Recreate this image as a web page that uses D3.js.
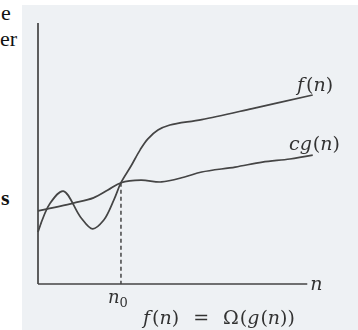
<!DOCTYPE html>
<html>
<head>
<meta charset="utf-8">
<script src="https://cdn.jsdelivr.net/npm/d3@7"></script>
<style>
  html, body { margin: 0; padding: 0; background: #ffffff; }
  svg { display: block; }
</style>
</head>
<body>
<svg id="chart" width="358" height="330"></svg>
<script>
// f(n): wiggles at first, then climbs past c·g(n) for good
const fN = [0, 4.5, 9.3, 15.6, 20.1, 24.2, 27.9, 30.5, 34.2, 37.6, 40.4, 44.1, 48.5, 60.2, 78.8, 101];
const fV = [19.9, 31.0, 35.6, 25.7, 21.1, 24.5, 32.2, 38.8, 45.2, 51.5, 55.6, 59.0, 60.9, 63.0, 67.2, 72.4];

// c·g(n): slowly rising lower bound
const gN = [0, 13.0, 20.4, 25.7, 30.5, 37.9, 45.4, 53.9, 60.2, 72.5, 82.5, 92.6, 101];
const gV = [28.0, 31.0, 33.0, 36.0, 38.8, 39.8, 39.1, 41.0, 42.9, 44.8, 46.7, 47.9, 49.4];

// threshold n0 where f(n) >= c·g(n) from then on
const n0 = 30.5;
const n0Value = 38.8;

// axis extents
const xAxisEnd = 99;
const yAxisTop = 100;

const svg = d3.select("#chart");

// soften edges slightly, like printed ink
const defs = svg.append("defs");
defs.append("filter").attr("id", "soft")
  .append("feGaussianBlur").attr("stdDeviation", 0.35);

// page area
svg.append("rect")
  .attr("x", 22).attr("y", 5)
  .attr("width", 336).attr("height", 325)
  .attr("fill", "#eef1f4");

const x = d3.scaleLinear().domain([0, 100]).range([38, 310]);
const y = d3.scaleLinear().domain([0, 100]).range([284, 23]);

const ink = "#444";
const g = svg.append("g").attr("filter", "url(#soft)");

// axes
g.append("line")
  .attr("x1", x(0)).attr("x2", x(0))
  .attr("y1", y(0)).attr("y2", y(yAxisTop))
  .attr("stroke", ink).attr("stroke-width", 1.7);
g.append("line")
  .attr("x1", x(0)).attr("x2", x(xAxisEnd))
  .attr("y1", y(0)).attr("y2", y(0))
  .attr("stroke", ink).attr("stroke-width", 1.7);

// dashed drop line at n0
g.append("line")
  .attr("x1", x(n0)).attr("x2", x(n0))
  .attr("y1", y(n0Value)).attr("y2", y(0))
  .attr("stroke", ink).attr("stroke-width", 1.5)
  .attr("stroke-dasharray", "4,3");

const line = d3.line()
  .x(d => x(d[0])).y(d => y(d[1]))
  .curve(d3.curveCatmullRom.alpha(0.5));

g.append("path")
  .datum(d3.zip(gN, gV))
  .attr("d", line)
  .attr("fill", "none").attr("stroke", ink).attr("stroke-width", 1.7);

g.append("path")
  .datum(d3.zip(fN, fV))
  .attr("d", line)
  .attr("fill", "none").attr("stroke", ink).attr("stroke-width", 1.7);

// labels
const serif = "'DejaVu Serif', 'Liberation Serif', serif";
const txt = "#333";

function label(px, py, parts, size) {
  const t = g.append("text")
    .attr("x", px).attr("y", py)
    .attr("font-family", serif)
    .attr("font-size", size)
    .attr("fill", txt);
  parts.forEach(p => {
    const s = t.append("tspan").text(p[0])
      .attr("font-style", p[1] ? "italic" : "normal");
    if (p[2]) s.attr("dx", p[2]);
  });
  return t;
}

label(297, 91, [["f", true], ["(", false, 2], ["n", true], [")", false]], 19);
label(289, 150, [["cg", true], ["(", false, 1], ["n", true], [")", false]], 19);
label(x(xAxisEnd) + 3, y(0) + 6, [["n", true]], 19);
label(108, 303, [["n", true], ["0", false]], 18).select("tspan:last-child")
  .attr("font-size", 13).attr("dy", 4);
label(143, 324, [["f", true], ["(", false, 2], ["n", true], [")", false], ["=", false, 14], ["Ω", false, 14], ["(", false, 1], ["g", true], ["(", false, 1], ["n", true], [")", false], [")", false]], 19);

// neighbouring column text at the left edge
const side = svg.append("g")
  .attr("font-family", "'Liberation Serif', serif").attr("font-size", 22).attr("fill", "#111");
side.append("text").attr("x", 1).attr("y", 20).text("e");
side.append("text").attr("x", 0).attr("y", 46).text("er");
side.append("text").attr("x", 1).attr("y", 205).attr("font-weight", "bold").text("s");
</script>
</body>
</html>
